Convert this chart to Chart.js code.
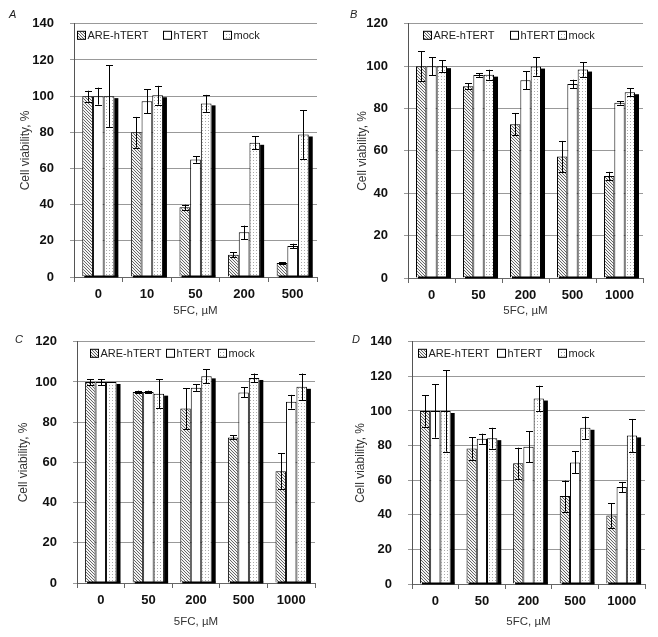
<!DOCTYPE html>
<html>
<head>
<meta charset="utf-8">
<script src="https://cdn.jsdelivr.net/npm/chart.js@4.4.0/dist/chart.umd.min.js"></script>
<style>
body { margin: 0; background: #fff; width: 658px; height: 637px; position: relative; overflow: hidden; font-family: "Liberation Sans", Arial, sans-serif; }
.panel { position: absolute; }
.letter { position: absolute; font-style: italic; font-size: 11px; color: #222; }
</style>
</head>
<body>
<div class="panel" style="left:0;top:0"><canvas id="chartA" width="329" height="318"></canvas></div>
<div class="panel" style="left:329px;top:0"><canvas id="chartB" width="329" height="318"></canvas></div>
<div class="panel" style="left:0;top:318px"><canvas id="chartC" width="329" height="319"></canvas></div>
<div class="panel" style="left:329px;top:318px"><canvas id="chartD" width="329" height="319"></canvas></div>
<div class="letter" style="left:9px;top:8px">A</div>
<div class="letter" style="left:350px;top:8px">B</div>
<div class="letter" style="left:15px;top:333px">C</div>
<div class="letter" style="left:352px;top:333px">D</div>
<script>
const seriesNames = ["ARE-hTERT", "hTERT", "mock"];

// panel A
const dosesA = ["0", "10", "50", "200", "500"];
const areA = [100, 80, 38.5, 12.3, 7.7];
const areErrA = [3, 8.5, 1.5, 1.3, 0.5];
const htertA = [100, 97.2, 65, 24.7, 17.1];
const htertErrA = [4.7, 6.7, 1.8, 3.7, 1.3];
const mockA = [100, 100.5, 96, 74.2, 78.8];
const mockErrA = [17, 5.2, 4.7, 3.6, 13.5];

// panel B
const dosesB = ["0", "50", "200", "500", "1000"];
const areB = [100, 90.5, 72.6, 57.3, 48.2];
const areErrB = [7, 1.5, 5.3, 7.4, 1.9];
const htertB = [100, 95.8, 93.3, 91.6, 82.7];
const htertErrB = [4.2, 0.8, 4.2, 2, 0.8];
const mockB = [100, 96, 99.8, 98.4, 87.7];
const mockErrB = [2.8, 2.3, 4.3, 3.4, 1.9];

// panel C
const dosesC = ["0", "50", "200", "500", "1000"];
const areC = [100, 95, 86.8, 72.4, 55.6];
const areErrC = [1.5, 0.7, 10.2, 1, 9];
const htertC = [100, 95, 97.2, 94.8, 90.2];
const htertErrC = [1.5, 0.7, 1.6, 2.5, 3.4];
const mockC = [100, 94.2, 102.8, 102, 97.6];
const mockErrC = [0, 7.3, 3.5, 2.2, 6.6];

// panel D
const dosesD = ["0", "50", "200", "500", "1000"];
const areD = [100, 78.3, 69.8, 50.8, 39.6];
const areErrD = [9, 6.4, 9, 9, 7.1];
const htertD = [100, 84, 79.3, 70.3, 56];
const htertErrD = [15.4, 2.9, 9, 6.4, 3];
const mockD = [100, 84.3, 107.2, 90.3, 85.9];
const mockErrD = [23.5, 6, 7.4, 6.4, 9.5];

function hatchPattern() {
    const c = document.createElement("canvas");
    c.width = 3; c.height = 3;
    const g = c.getContext("2d");
    g.fillStyle = "#f4f4f4";
    g.fillRect(0, 0, 3, 3);
    g.fillStyle = "#666";
    g.fillRect(0, 0, 1, 1);
    g.fillRect(1, 1, 1, 1);
    g.fillRect(2, 2, 1, 1);
    return g.createPattern(c, "repeat");
}

function dotPattern() {
    const c = document.createElement("canvas");
    c.width = 3; c.height = 3;
    const g = c.getContext("2d");
    g.fillStyle = "#fff";
    g.fillRect(0, 0, 3, 3);
    g.fillStyle = "#aaa";
    g.fillRect(1, 1, 1, 1);
    return g.createPattern(c, "repeat");
}

const fills = [hatchPattern(), "#fff", dotPattern()];

// shadow of mock bars, error bars and the legend inside the plot
const extras = {
    id: "extras",
    afterDatasetsDraw(chart) {
        const ctx = chart.ctx;
        const yScale = chart.scales.y;
        const area = chart.chartArea;
        ctx.save();
        const first = chart.getDatasetMeta(0).data;
        chart.getDatasetMeta(2).data.forEach((bar, j) => {
            const p = bar.getProps(["x", "y", "base", "width"], true);
            ctx.fillStyle = "#000";
            ctx.fillRect(p.x + p.width / 2, p.y + 2, 4, p.base - p.y - 2);
            const left = first[j].getProps(["x", "width"], true);
            ctx.fillRect(left.x - left.width / 2 + 2, p.base - 1, (p.x + p.width / 2 + 4) - (left.x - left.width / 2 + 2), 2);
        });
        ctx.strokeStyle = "#000";
        ctx.lineWidth = 1;
        chart.data.datasets.forEach((ds, i) => {
            chart.getDatasetMeta(i).data.forEach((bar, j) => {
                const e = ds.errors[j];
                if (!e) return;
                const x = Math.round(bar.x) + 0.5;
                const top = yScale.getPixelForValue(ds.data[j] + e);
                const bot = yScale.getPixelForValue(ds.data[j] - e);
                ctx.beginPath();
                ctx.moveTo(x, top); ctx.lineTo(x, bot);
                ctx.moveTo(x - 3.5, Math.round(top) + 0.5); ctx.lineTo(x + 3.5, Math.round(top) + 0.5);
                ctx.moveTo(x - 3.5, Math.round(bot) + 0.5); ctx.lineTo(x + 3.5, Math.round(bot) + 0.5);
                ctx.stroke();
            });
        });
        const lx = chart.options.plugins.extras.legendX;
        const ly = area.top + 12;
        ctx.font = "11px 'Liberation Sans', Arial, sans-serif";
        ctx.textBaseline = "middle";
        chart.data.datasets.forEach((ds, i) => {
            const bx = Math.round(area.left + lx[i]);
            ctx.fillStyle = ds.backgroundColor;
            ctx.fillRect(bx, ly - 4, 8, 8);
            ctx.strokeStyle = "#000";
            ctx.strokeRect(bx + 0.5, ly - 4.5, 8, 8);
            ctx.fillStyle = "#222";
            ctx.fillText(ds.label, bx + 10.5, ly + 0.5);
        });
        ctx.restore();
    }
};

function makePanel(id, doses, vals, errs, yMax, box) {
    const datasets = [];
    for (let i = 0; i < 3; i++) {
        datasets.push({
            label: seriesNames[i],
            data: vals[i],
            errors: errs[i],
            backgroundColor: fills[i],
            borderColor: "#000",
            borderWidth: 1,
            categoryPercentage: 0.66,
            barPercentage: 1
        });
    }
    return new Chart(document.getElementById(id), {
        type: "bar",
        data: { labels: doses, datasets: datasets },
        plugins: [extras],
        options: {
            responsive: false,
            animation: false,
            layout: { padding: { left: box.padLeft, top: box.top, right: box.right, bottom: box.padBottom } },
            scales: {
                x: {
                    afterFit(scale) { scale.height = box.xHeight; },
                    grid: { display: true, drawOnChartArea: false, tickLength: 5, color: "#666" },
                    border: { color: "#666" },
                    ticks: { color: "#111", padding: 5, font: { family: "'Liberation Sans', Arial", size: 13, weight: "bold" } },
                    title: { display: true, text: "5FC, µM", color: "#333", padding: 0, font: { family: "'Liberation Sans', Arial", size: 11.5 } }
                },
                y: {
                    min: 0,
                    max: yMax,
                    afterFit(scale) { scale.width = box.yWidth; },
                    grid: { color: "#999", tickLength: 4 },
                    border: { color: "#555" },
                    ticks: { stepSize: 20, color: "#111", padding: 16, font: { family: "'Liberation Sans', Arial", size: 13, weight: "bold" } },
                    title: { display: true, text: "Cell viability, %", color: "#333", padding: 0, font: { family: "'Liberation Sans', Arial", size: 12 } }
                }
            },
            plugins: {
                legend: { display: false },
                tooltip: { enabled: false },
                extras: { legendX: box.legendX }
            }
        }
    });
}

makePanel("chartA", dosesA, [areA, htertA, mockA], [areErrA, htertErrA, mockErrA], 140,
    { padLeft: 18, yWidth: 56, top: 17, right: 12, padBottom: 0, xHeight: 41, legendX: [3, 89, 149] });
makePanel("chartB", dosesB, [areB, htertB, mockB], [areErrB, htertErrB, mockErrB], 120,
    { padLeft: 26, yWidth: 53, top: 17, right: 15, padBottom: 0, xHeight: 40, legendX: [15, 102, 150] });
makePanel("chartC", dosesC, [areC, htertC, mockC], [areErrC, htertErrC, mockErrC], 120,
    { padLeft: 16, yWidth: 61, top: 19, right: 14, padBottom: 8, xHeight: 46, legendX: [13, 89, 141] });
makePanel("chartD", dosesD, [areD, htertD, mockD], [areErrD, htertErrD, mockErrD], 140,
    { padLeft: 24, yWidth: 59, top: 20, right: 13, padBottom: 8, xHeight: 45, legendX: [6, 85, 146] });
</script>
</body>
</html>
